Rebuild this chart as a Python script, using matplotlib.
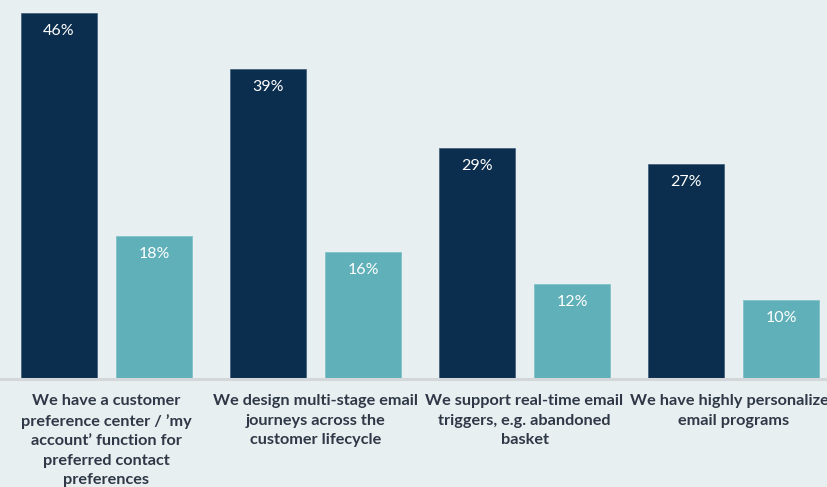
import matplotlib
matplotlib.use("Agg")
import matplotlib.pyplot as plt
import numpy as np

categories = [
    "We have a customer\npreference center / \u2019my\naccount\u2019 function for\npreferred contact\npreferences",
    "We design multi-stage email\njourneys across the\ncustomer lifecycle",
    "We support real-time email\ntriggers, e.g. abandoned\nbasket",
    "We have highly personalized\nemail programs",
]
series_a = [46, 39, 29, 27]
series_b = [18, 16, 12, 10]

BG = "#e8eff1"
DARK = "#0b2e4e"
TEAL = "#5fb0b8"
TEXT = "#2f3846"

plt.rcParams["font.family"] = ["Lato", "DejaVu Sans"]

W, H = 827, 487
fig = plt.figure(figsize=(W / 100, H / 100), dpi=100, facecolor=BG)
base_px = 379
ax = fig.add_axes([0, (H - base_px) / H, 1, base_px / H])
ax.set_facecolor(BG)

group_px = 209.0
first_center_px = 106.5
ax.set_xlim(-first_center_px / group_px, (W - first_center_px) / group_px)
ax.set_ylim(0, base_px / 7.95)

x = np.arange(len(categories))
width = 76 / group_px
off = 47.5 / group_px

bars_a = ax.bar(x - off, series_a, width, color=DARK, edgecolor="#3d5a78", linewidth=0.5)
bars_b = ax.bar(x + off, series_b, width, color=TEAL, edgecolor="#7cc0c6", linewidth=0.5)

for bars, vals in ((bars_a, series_a), (bars_b, series_b)):
    for b, v in zip(bars, vals):
        ax.annotate(f"{v}%", (b.get_x() + b.get_width() / 2, v),
                    xytext=(0, -18), textcoords="offset pixels",
                    ha="center", va="center", color="white", fontsize=11.5)

ax.axhline(0, color="#d3d7da", linewidth=2.2, clip_on=False)

for xi, label in zip(x, categories):
    ax.annotate(label, (xi, 0), xytext=(0, -15), textcoords="offset pixels",
                ha="center", va="top", color=TEXT, fontsize=11.7,
                fontweight="bold", linespacing=1.5, annotation_clip=False)

for s in ax.spines.values():
    s.set_visible(False)
ax.set_xticks([])
ax.set_yticks([])

fig.savefig("out.png", dpi=100, facecolor=BG)
